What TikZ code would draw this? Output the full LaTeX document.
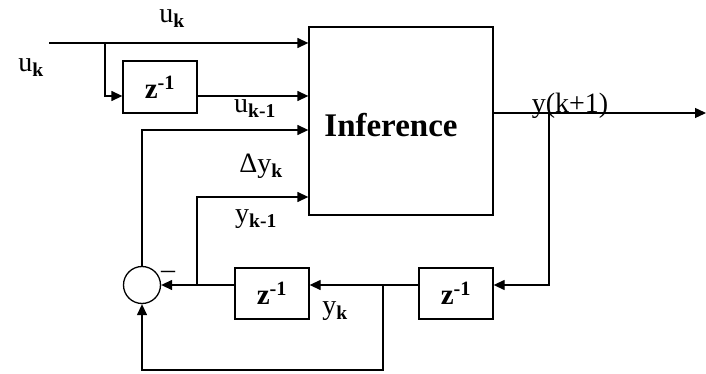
\documentclass[tikz,border=0pt]{standalone}
\usepackage{fontspec}
\setmainfont{Liberation Serif}
\usetikzlibrary{arrows.meta}
\tikzset{
  blk/.style={draw, line width=1.3pt, inner sep=0pt},
  zblk/.style={blk, minimum width=74pt, minimum height=51pt, font=\fontsize{29}{32}\selectfont\bfseries},
  wire/.style={line width=1.3pt},
  arr/.style={wire, -{Triangle[length=11pt,width=10pt]}},
  lbl/.style={font=\fontsize{28}{32}\selectfont, inner sep=0pt},
}
\begin{document}
\begin{tikzpicture}[x=1pt,y=-1pt]
\useasboundingbox (0,0) rectangle (706,374);
% blocks
\node[blk, minimum width=184pt, minimum height=188pt] (inf) at (401,121) {};
\node[font=\fontsize{33}{36}\selectfont\bfseries, inner sep=0pt] (inft) at (391,125) {Inference};
\node[zblk, minimum height=52pt] (z1) at (160,87) {z\textsuperscript{-1}};
\node[zblk] (z2) at (272,293.5) {z\textsuperscript{-1}};
\node[zblk] (z3) at (456,293.5) {z\textsuperscript{-1}};
\node[draw, circle, line width=1.3pt, minimum size=37pt, inner sep=0pt] (sum) at (142,285) {};
% helper rows
\coordinate (r43) at (0,43);
\coordinate (r96) at (0,96);
\coordinate (r113) at (0,113);
\coordinate (r130) at (0,130);
\coordinate (r197) at (0,197);
\coordinate (r285) at (0,285);
\coordinate (in) at (49,43);
\coordinate (b1) at (105,43);
\coordinate (out) at (706,113);
\coordinate (b2) at (549,113);
\coordinate (b3) at (383,285);
\coordinate (b4) at (197,285);
\coordinate (low) at (383,370);
% input u_k
\draw[arr] (in) -- (inf.west |- r43);
\draw[arr] (b1) |- (z1.west |- r96);
\draw[arr] (z1.east |- r96) -- (inf.west |- r96);
% output
\draw[arr] (inf.east |- r113) -- (out);
\draw[arr] (b2) |- (z3.east |- r285);
\draw[arr] (z3.west |- r285) -- (z2.east |- r285);
\draw[arr] (z2.west |- r285) -- (sum.east);
\draw[arr] (b4) |- (inf.west |- r197);
\draw[arr] (sum.north) |- (inf.west |- r130);
\draw[arr] (b3) |- (low) -| (sum.south);
% labels
\node[lbl] (l1) at (172,19) {u\textsubscript{\textbf{k}}};
\node[lbl] (l2) at (31,68) {u\textsubscript{\textbf{k}}};
\node[lbl] (l3) at (255,109) {u\textsubscript{\textbf{k-1}}};
\node[lbl] (l4) at (570,106) {y(k+1)};
\node[lbl] (l5) at (261,166) {Δy\textsubscript{\textbf{k}}};
\node[lbl] (l6) at (256,219) {y\textsubscript{\textbf{k-1}}};
\node[lbl] (l7) at (335,311) {y\textsubscript{\textbf{k}}};
\node[lbl] (l8) at (168,275) {–};
\end{tikzpicture}
\end{document}
